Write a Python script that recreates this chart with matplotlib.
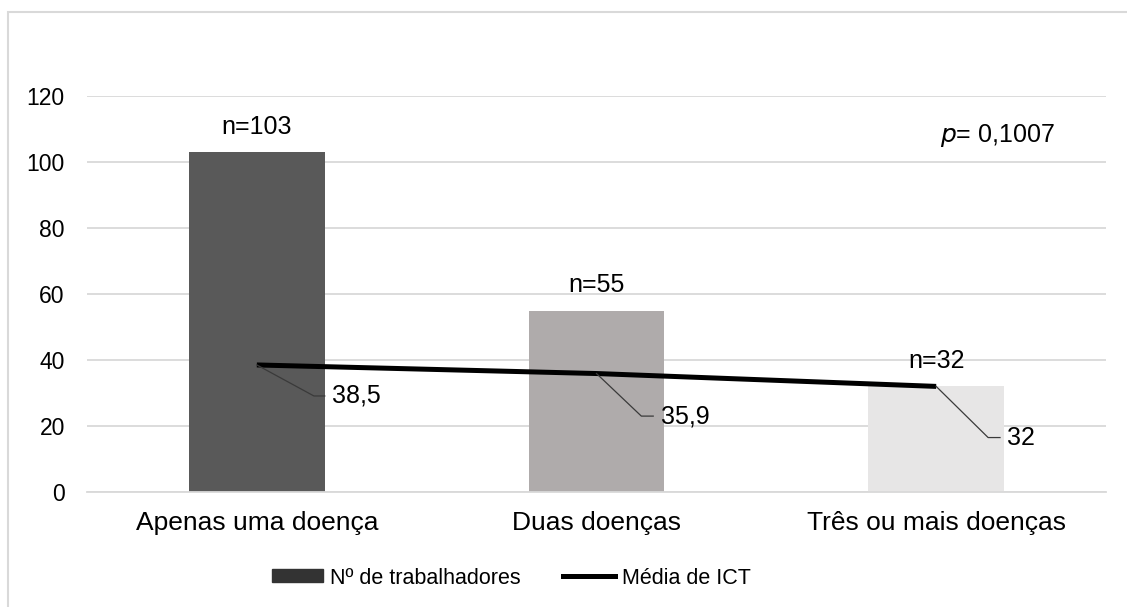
import matplotlib.pyplot as plt
from matplotlib.patches import Rectangle
from matplotlib.lines import Line2D

plt.rcParams['font.family'] = ['Liberation Sans', 'DejaVu Sans']

categorias = ['Apenas uma doença', 'Duas doenças', 'Três ou mais doenças']
n_trabalhadores = [103, 55, 32]
media_ict = [38.5, 35.9, 32]
rotulos_ict = ['38,5', '35,9', '32']
cores_barras = ['#595959', '#AFABAB', '#E7E6E6']

W, H = 1127, 607
fig = plt.figure(figsize=(W / 100, H / 100), dpi=100)
ax = fig.add_axes([87 / W, 1 - 492 / H, 1019 / W, 396 / H])

x = range(len(categorias))
ax.bar(x, n_trabalhadores, width=0.4, color=cores_barras, zorder=2)
ax.plot(x, media_ict, color='black', linewidth=3.6, zorder=3, solid_capstyle='butt')

for i, n in enumerate(n_trabalhadores):
    ax.text(i, n + 7.6, 'n=%d' % n, ha='center', va='center', fontsize=18)

# rótulos da média com linha de chamada (cotovelo, fim do traço horizontal)
chamadas = [(0.168, -9.4, 0.032), (0.132, -12.9, 0.035), (0.153, -15.5, 0.035)]
for i, (v, lab) in enumerate(zip(media_ict, rotulos_ict)):
    dx, dy, hx = chamadas[i]
    ax.plot([i, i + dx, i + dx + hx], [v, v + dy, v + dy], color='#3A3A3A', lw=0.9, zorder=4)
    ax.text(i + dx + hx + 0.022, v + dy, lab, ha='left', va='center', fontsize=18, zorder=4)

ax.text(2.18, 108, r'$\it{p}$= 0,1007', ha='center', va='center', fontsize=18)

ax.set_xlim(-0.5, 2.5)
ax.set_ylim(0, 120)
ax.set_yticks(range(0, 121, 20))
ax.set_xticks(list(x))
ax.set_xticklabels(categorias, fontsize=19)
ax.tick_params(axis='y', labelsize=16.5, length=0, pad=16)
ax.tick_params(axis='x', length=0, pad=14)
ax.grid(axis='y', color='#D9D9D9', linewidth=1.3, zorder=0)
for s in ['top', 'right', 'left']:
    ax.spines[s].set_visible(False)
ax.spines['bottom'].set_color('#D9D9D9')
ax.spines['bottom'].set_linewidth(1.3)

handles = [Rectangle((0, 0), 1, 1, color='#333333'),
           Line2D([0], [0], color='black', linewidth=3.6)]
fig.legend(handles, ['Nº de trabalhadores', 'Média de ICT'], loc='center',
           bbox_to_anchor=(511 / W, 1 - 578 / H), ncol=2, frameon=False,
           fontsize=15.5, handlelength=2.4, handleheight=0.55,
           handletextpad=0.3, columnspacing=2.0)

fig.add_artist(Rectangle((8 / W, -0.05), 1.1, 1 + 0.05 - 12 / H,
                         transform=fig.transFigure, fill=False,
                         edgecolor='#D9D9D9', lw=1.5))

fig.savefig('out.png', dpi=100)
